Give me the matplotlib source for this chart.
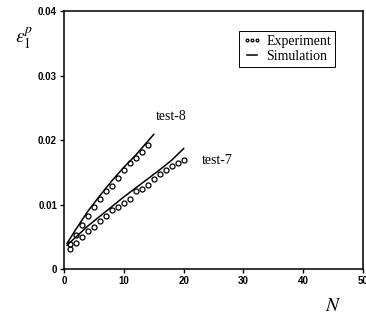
import matplotlib
matplotlib.use("Agg")
import matplotlib.pyplot as plt

plt.rcParams['mathtext.fontset'] = 'stix'

# experiment data
n8 = [1, 2, 3, 4, 5, 6, 7, 8, 9, 10, 11, 12, 13, 14]
e8 = [0.0039, 0.0053, 0.0068, 0.0083, 0.0096, 0.0108, 0.0121, 0.0129,
      0.0142, 0.0153, 0.0164, 0.0173, 0.0182, 0.0193]
n7 = [1, 2, 3, 4, 5, 6, 7, 8, 9, 10, 11, 12, 13, 14, 15, 16, 17, 18, 19, 20]
e7 = [0.0031, 0.0041, 0.0050, 0.0059, 0.0066, 0.0075, 0.0082, 0.0091,
      0.0097, 0.0102, 0.0109, 0.0121, 0.0124, 0.0131, 0.0140, 0.0147,
      0.0153, 0.0160, 0.0165, 0.0169]

# simulation curves
sn8 = [0.5, 2, 4, 6, 8, 10, 12, 15]
se8 = [0.0040, 0.0062, 0.0090, 0.0114, 0.0137, 0.0158, 0.0177, 0.0209]
sn7 = [0.5, 2, 4, 6, 8, 10, 12, 14, 16, 18, 20]
se7 = [0.0037, 0.0050, 0.0067, 0.0082, 0.0097, 0.0112, 0.0126, 0.0140,
       0.0154, 0.0169, 0.0187]

fig = plt.figure(figsize=(3.66, 3.2), dpi=100)
ax = fig.add_axes([0.175, 0.159, 0.817, 0.806])

ax.plot(n8, e8, 'o', mfc='none', mec='black', ms=3.6, mew=0.9, label='Experiment')
ax.plot(n7, e7, 'o', mfc='none', mec='black', ms=3.6, mew=0.9)
ax.plot(sn8, se8, '-', color='black', lw=1.1, label='Simulation')
ax.plot(sn7, se7, '-', color='black', lw=1.1)

ax.text(17.9, 0.0236, 'test-8', ha='center', va='center',
        family='Liberation Serif', fontsize=10)
ax.text(25.6, 0.0169, 'test-7', ha='center', va='center',
        family='Liberation Serif', fontsize=10)

ax.set_xlim(0, 50)
ax.set_ylim(0, 0.04)
ax.set_xticks([0, 10, 20, 30, 40, 50])
ax.set_yticks([0, 0.01, 0.02, 0.03, 0.04])
ax.set_yticklabels(['0', '0.01', '0.02', '0.03', '0.04'])
ax.tick_params(direction='out', length=3, width=1, labelsize=7, pad=2)
for lab in ax.get_xticklabels() + ax.get_yticklabels():
    lab.set_fontweight('bold')
    lab.set_family('Liberation Sans')
for s in ax.spines.values():
    s.set_linewidth(1.1)

leg = ax.legend(loc='upper right', bbox_to_anchor=(0.93, 0.95),
                prop={'family': 'Liberation Serif', 'size': 10},
                numpoints=3, handlelength=1.3, handletextpad=0.4,
                borderpad=0.3, labelspacing=0.15, fancybox=False,
                framealpha=1, edgecolor='black', markerscale=0.55)
leg.get_frame().set_linewidth(0.7)

fig.text(0.065, 0.88, r'$\varepsilon_1^p$', fontsize=14, ha='center', va='center')
fig.text(0.91, 0.045, r'$N$', fontsize=14, ha='center', va='center')

fig.savefig('out.png', dpi=100)
